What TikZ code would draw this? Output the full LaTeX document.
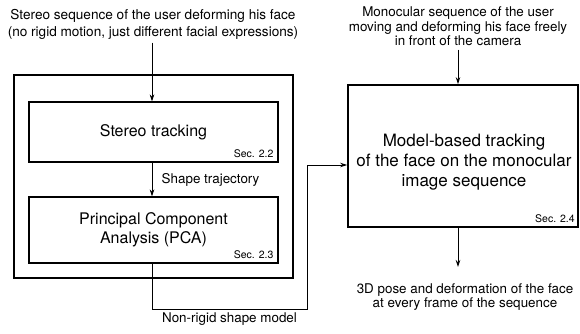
\documentclass[tikz,border=0pt]{standalone}
\usepackage{fontspec}
\setmainfont{TeX Gyre Heros}
\usetikzlibrary{arrows.meta}

\tikzset{
  frame/.style={draw, line width=1.8pt, inner sep=0pt},
  stage/.style={draw, line width=1.1pt, minimum width=249pt, inner sep=0pt, align=center,
    font=\fontsize{16}{19}\selectfont},
  flow/.style={line width=0.8pt, -{Stealth[length=7pt,width=4.5pt]}},
  caption/.style={align=center, font=\fontsize{13.4}{14.5}\selectfont},
  secref/.style={anchor=south east, inner sep=0pt, font=\fontsize{10.5}{12}\selectfont},
}

\begin{document}
\begin{tikzpicture}[x=1pt,y=1pt]
  \useasboundingbox (0,0) rectangle (580,333);

  \node[frame, minimum width=279pt, minimum height=203pt] (outer) at (153.5,156.5) {};
  \node[stage, minimum height=60pt] (stereo) at (153.5,201) {Stereo tracking};
  \node[stage, minimum height=66pt] (pca) at (153.5,103) {Principal Component\\Analysis (PCA)};
  \node[frame, minimum width=230pt, minimum height=142pt] (track) at (463,177) {};
  \node[align=center, font=\fontsize{17}{20}\selectfont] (tracktext) at (464,171)
    {Model-based tracking\\of the face on the monocular\\image sequence};

  \node[secref] (sec22) at ([shift={(-5,5)}]stereo.south east) {Sec. 2.2};
  \node[secref] (sec23) at ([shift={(-5,5)}]pca.south east) {Sec. 2.3};
  \node[secref] (sec24) at ([shift={(-4,5)}]track.south east) {Sec. 2.4};

  \node[caption, font=\fontsize{13.6}{17}\selectfont] (stereoin) at (153,309)
    {Stereo sequence of the user deforming his face\\(no rigid motion, just different facial expressions)};
  \node[caption] (monoin) at (458,306.5)
    {Monocular sequence of the user\\moving and deforming his face freely\\in front of the camera};
  \node[caption] (poseout) at (465,36)
    {3D pose and deformation of the face\\at every frame of the sequence};

  \coordinate (bend) at (307,24);
  \coordinate (outend) at (458,66);

  \draw[flow] (stereoin.south -| 152,0) -- (stereo.north -| 152,0);
  \draw[flow] (stereo.south -| 152,0) -- (pca.north -| 152,0)
    node[midway, right=6pt] {\fontsize{13.4}{14.5}\selectfont Shape trajectory};
  \draw[flow] (pca.south -| 152,0) |- (bend)
    node[pos=0.75, below=0pt] {\fontsize{13.4}{14.5}\selectfont Non-rigid shape model}
    |- ([yshift=-9pt]track.west);
  \draw[flow] (monoin.south) -- (monoin.south |- track.north);
  \draw[flow] (track.south -| outend) -- (outend);
\end{tikzpicture}
\end{document}
